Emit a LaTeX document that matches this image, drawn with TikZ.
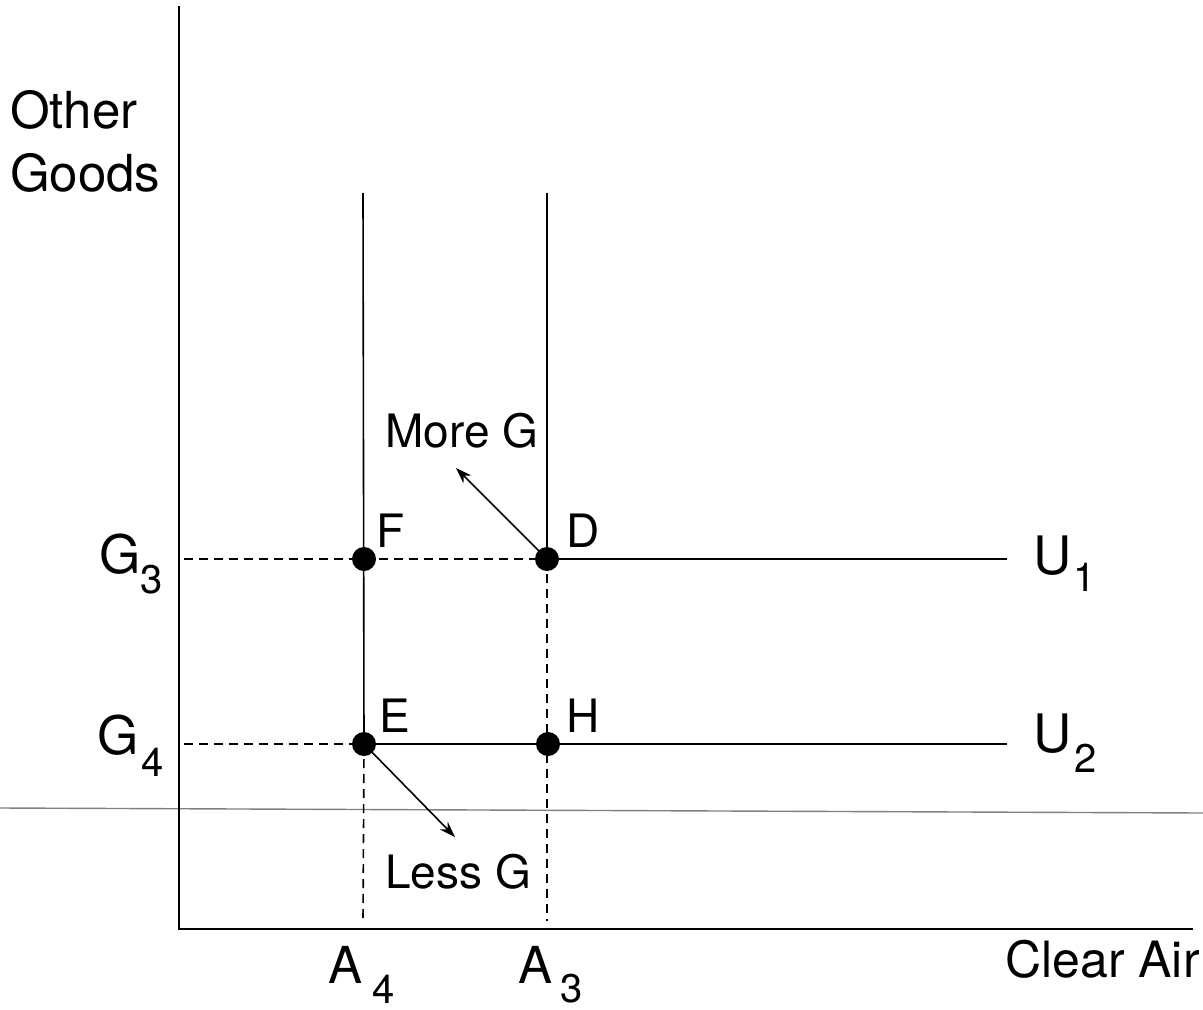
\documentclass[tikz,border=0pt]{standalone}
\usepackage{fontspec}
\setmainfont{TeX Gyre Heros}
\usetikzlibrary{arrows.meta}
\newcommand\fAx{\fontsize{51pt}{55pt}\selectfont}
\newcommand\fCl{\fontsize{50pt}{54pt}\selectfont}
\newcommand\fIn{\fontsize{46pt}{50pt}\selectfont}
\newcommand\fBig{\fontsize{53pt}{57pt}\selectfont}
\newcommand\fSub{\fontsize{40pt}{44pt}\selectfont}
\begin{document}
\begin{tikzpicture}[x=1pt,y=-1pt,
  lbl/.style={inner sep=0pt, anchor=base west},
  axisline/.style={line width=2.8pt},
  thinline/.style={line width=1.6pt},
  dshline/.style={line width=1.6pt, dash pattern=on 9pt off 6pt},
  dot/.style={circle, fill=black, minimum size=24pt, inner sep=0pt},
  arr/.style={line width=1.6pt, -{Stealth[length=16pt,width=11pt]}}]
\useasboundingbox (0,0) rectangle (1203,1010);
% free ends
\coordinate (ytop) at (179,6);
\coordinate (orig) at (179,929);
\coordinate (xend) at (1193,929);
\coordinate (gl) at (0,808);
\coordinate (gr) at (1203,813);
\coordinate (a4top) at (363,193);
\coordinate (a3top) at (547,193);
\coordinate (a4bot) at (363,921);
\coordinate (a3bot) at (547,921);
\coordinate (g3l) at (184,559);
\coordinate (g4l) at (184,744);
\coordinate (u1r) at (1007,559);
\coordinate (u2r) at (1007,744);
\coordinate (moretip) at (456,468);
\coordinate (lesstip) at (455,837);
% points
\node[dot] (F) at (364,559) {};
\node[dot] (D) at (547,559) {};
\node[dot] (E) at (364,744) {};
\node[dot] (H) at (548,744) {};
% stray scan line
\draw[gray, line width=1.4pt] (gl) -- (gr);
% axes
\draw[axisline] (ytop) -- (orig) -- (xend);
% vertical parts of the curves
\draw[thinline] (a4top) -- (E.center);
\draw[thinline] (a3top) -- (D.center);
\draw[dshline] (E.center) -- (a4bot);
\draw[dshline] (D.center) -- (a3bot);
% horizontal parts
\draw[dshline] (g3l) -- (D.center);
\draw[dshline] (g4l) -- (E.center);
\draw[thinline] (D.center) -- (u1r);
\draw[thinline] (E.center) -- (u2r);
% arrows
\draw[arr] (D.center) -- (moretip);
\draw[arr] (E.center) -- (lesstip);
% labels
\node[lbl,font=\fAx] (other) at (10,128) {Other};
\node[lbl,font=\fAx] (goods) at (10,191) {Goods};
\node[lbl,font=\fIn] (more) at (385,447) {More G};
\node[lbl,font=\fIn] (less) at (385,888) {Less G};
\node[lbl,font=\fIn] (Flab) at (376,547) {F};
\node[lbl,font=\fIn] (Dlab) at (566,547) {D};
\node[lbl,font=\fIn] (Elab) at (379,732) {E};
\node[lbl,font=\fIn] (Hlab) at (566,732) {H};
\node[lbl,font=\fCl] (clear) at (1005,977) {Clear Air};
\node[lbl,font=\fBig] (G3) at (99,573) {G};
\node[lbl,font=\fSub] (G3s) at (140,593) {3};
\node[lbl,font=\fBig] (G4) at (97,754) {G};
\node[lbl,font=\fSub] (G4s) at (141,776) {4};
\node[lbl,font=\fBig] (U1) at (1033,574) {U};
\node[lbl,font=\fSub] (U1s) at (1073,591) {1};
\node[lbl,font=\fBig] (U2) at (1033,752) {U};
\node[lbl,font=\fSub] (U2s) at (1074,772) {2};
\node[lbl,font=\fAx] (A4) at (328,983) {A};
\node[lbl,font=\fSub] (A4s) at (372,1003) {4};
\node[lbl,font=\fAx] (A3) at (518,983) {A};
\node[lbl,font=\fSub] (A3s) at (560,1002) {3};
\end{tikzpicture}
\end{document}
